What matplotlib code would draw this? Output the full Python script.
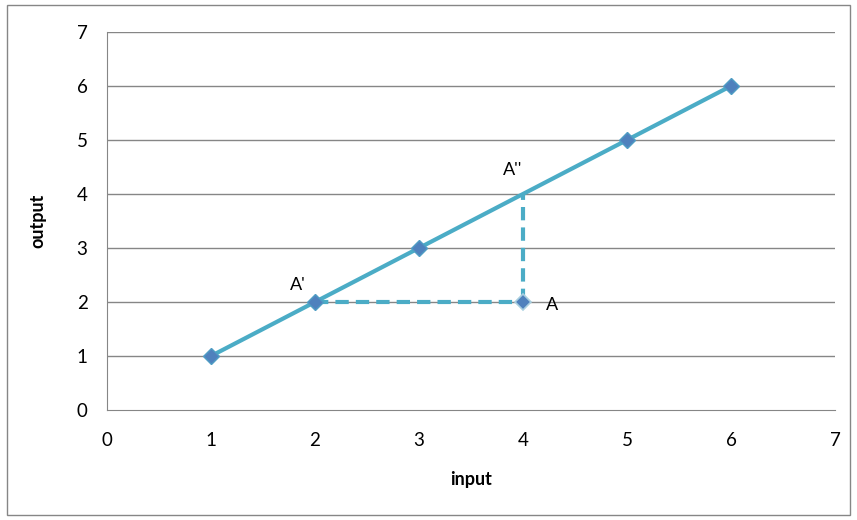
import matplotlib.pyplot as plt
from matplotlib.patches import Rectangle

# datos de la recta y del punto A
x_line = [1, 2, 3, 4, 5, 6]
y_line = [1, 2, 3, 4, 5, 6]
marker_idx = [0, 1, 2, 4, 5]   # sin marcador en (4,4)
point_a = (4, 2)
point_a1 = (2, 2)
point_a2 = (4, 4)
labels = ["A'", "A''", "A"]
label_pos = [(1.83, 2.32), (3.9, 4.44), (4.28, 1.94)]
ticks = [0, 1, 2, 3, 4, 5, 6, 7]

plt.rcParams['font.family'] = ['Lato', 'DejaVu Sans']

fig = plt.figure(figsize=(8.57, 5.2), dpi=100)
ax = fig.add_axes([107/857, 1 - 410/520, (835-107)/857, (410-32)/520])

# borde de la figura
fig.patches.append(Rectangle((7/857, 5/520), 843/857, 510/520, transform=fig.transFigure,
                             fill=False, edgecolor='#868686', linewidth=1))

grid_c = '#868686'
for t in ticks[1:]:
    ax.axhline(t, color=grid_c, linewidth=1, zorder=1)

# líneas discontinuas A' -> A -> A''
ax.plot([point_a1[0], point_a[0]], [point_a1[1], point_a[1]], color='#4bacc6',
        linewidth=3, dashes=(3.2, 1.7), zorder=2)
ax.plot([point_a[0], point_a2[0]], [point_a[1], point_a2[1]], color='#4bacc6',
        linewidth=3, dashes=(3.2, 1.7), zorder=2)

ax.plot(x_line, y_line, color='#4bacc6', linewidth=3, marker='D', markersize=8,
        markerfacecolor='#4f81bd', markeredgecolor='#4f9dc4', markeredgewidth=1,
        markevery=marker_idx, zorder=3)
ax.plot([point_a[0]], [point_a[1]], linestyle='none', marker='D', markersize=8,
        markerfacecolor='#4f81bd', markeredgecolor='#a9cfe0', markeredgewidth=1.2, zorder=4)

for lab, (lx, ly) in zip(labels, label_pos):
    ax.text(lx, ly, lab, fontsize=13, ha='center', va='center')

ax.set_xlim(0, 7)
ax.set_ylim(0, 7)
ax.set_xticks(ticks)
ax.set_yticks(ticks)
ax.tick_params(length=0, labelsize=13.5, pad=16)
ax.tick_params(axis='y', pad=14)
for s in ['top', 'right']:
    ax.spines[s].set_visible(False)
for s in ['left', 'bottom']:
    ax.spines[s].set_color(grid_c)
ax.set_xlabel('input', fontsize=13, fontweight='bold', labelpad=16)
ax.set_ylabel('output', fontsize=13, fontweight='bold', labelpad=22)

fig.savefig('out.png', dpi=100)
